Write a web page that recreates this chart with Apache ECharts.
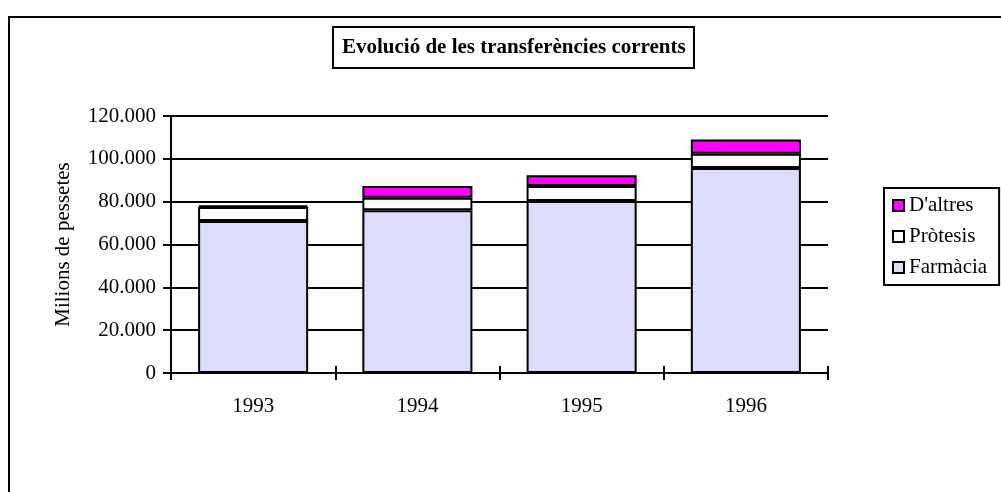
<!DOCTYPE html>
<html>
<head>
<meta charset="utf-8">
<title>Evolució de les transferències corrents</title>
<script src="https://cdn.jsdelivr.net/npm/echarts@6/dist/echarts.min.js"></script>
<style>
  html, body { margin: 0; padding: 0; background: #fff; }
  #chart { width: 1001px; height: 492px; }
</style>
</head>
<body>
<div id="chart"></div>
<script>
// dades llegides del gràfic (milions de pessetes)
var anys = ['1993', '1994', '1995', '1996'];
var farmacia = [71000, 76000, 80300, 95700];
var protesis = [6500, 5800, 7000, 6700];
var altres = [700, 5500, 5000, 6600];
var yTicks = [0, 20000, 40000, 60000, 80000, 100000, 120000];

var serif = 'Liberation Serif';

function milers(v) {
    return String(v).replace(/\B(?=(\d{3})+(?!\d))/g, '.');
}

var myChart = echarts.init(document.getElementById('chart'));

var option = {
    animation: false,
    backgroundColor: '#fff',
    textStyle: { fontFamily: serif, color: '#000' },
    graphic: [
        {
            type: 'rect',
            shape: { x: 9, y: 17, width: 1100, height: 600 },
            style: { fill: 'none', stroke: '#000', lineWidth: 2 },
            silent: true
        }
    ],
    title: {
        text: 'Evolució de les transferències corrents',
        left: 333,
        top: 27,
        padding: [10, 9],
        borderColor: '#000',
        borderWidth: 2,
        textStyle: { fontFamily: serif, fontWeight: 'bold', fontSize: 21, color: '#000' }
    },
    legend: {
        orient: 'vertical',
        left: 884,
        top: 188,
        padding: [7, 12, 7, 8],
        itemGap: 10,
        itemWidth: 11,
        itemHeight: 11,
        icon: 'rect',
        borderColor: '#000',
        borderWidth: 2,
        backgroundColor: '#fff',
        data: ["D'altres", 'Pròtesis', 'Farmàcia'],
        textStyle: { fontFamily: serif, fontSize: 21, color: '#000' }
    },
    grid: { left: 171, right: 173, top: 116, bottom: 119 },
    xAxis: [
        {
            type: 'category',
            data: anys,
            axisLine: { lineStyle: { color: '#000', width: 2 } },
            axisTick: { show: true, alignWithLabel: false, length: 7, lineStyle: { color: '#000', width: 2 } },
            axisLabel: { margin: 23, fontFamily: serif, fontSize: 21, color: '#000' }
        },
        {
            type: 'category',
            data: anys,
            position: 'bottom',
            axisLine: { show: false },
            axisTick: { show: true, inside: true, length: 7, lineStyle: { color: '#000', width: 2 } },
            axisLabel: { show: false }
        }
    ],
    yAxis: {
        type: 'value',
        min: yTicks[0],
        max: yTicks[yTicks.length - 1],
        interval: yTicks[1] - yTicks[0],
        name: 'Milions de pessetes',
        nameLocation: 'middle',
        nameGap: 97,
        nameRotate: 90,
        nameTextStyle: { fontFamily: serif, fontSize: 21, color: '#000' },
        axisLine: { show: true, lineStyle: { color: '#000', width: 2 } },
        axisTick: { show: true, length: 8, lineStyle: { color: '#000', width: 2 } },
        splitLine: { show: true, lineStyle: { color: '#000', width: 2 } },
        axisLabel: {
            margin: 15,
            fontFamily: serif,
            fontSize: 21,
            color: '#000',
            formatter: function (v) { return milers(v); }
        }
    },
    series: [
        {
            name: 'Farmàcia',
            type: 'bar',
            stack: 'total',
            barCategoryGap: '33%',
            data: farmacia,
            itemStyle: { color: '#dcdcfc', borderColor: '#000', borderWidth: 2 }
        },
        {
            name: 'Pròtesis',
            type: 'bar',
            stack: 'total',
            data: protesis,
            itemStyle: { color: '#ffffff', borderColor: '#000', borderWidth: 2 }
        },
        {
            name: "D'altres",
            type: 'bar',
            stack: 'total',
            data: altres,
            itemStyle: { color: '#ff00ff', borderColor: '#000', borderWidth: 2 }
        }
    ]
};

myChart.setOption(option);
</script>
</body>
</html>
